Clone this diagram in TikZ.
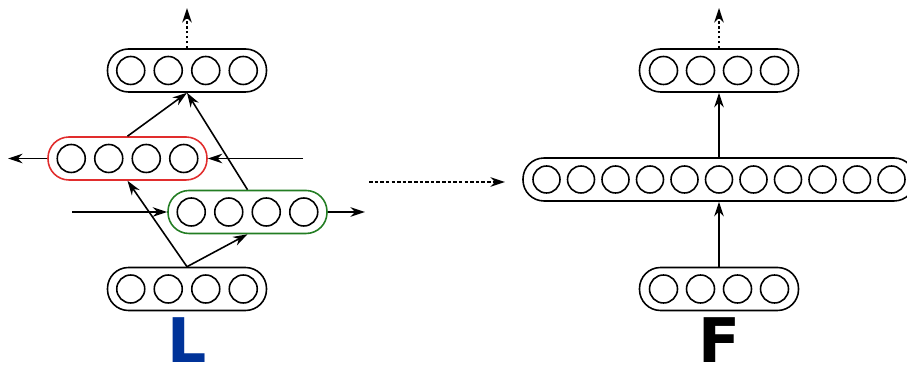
\documentclass[tikz,border=0pt]{standalone}
\usepackage{fontspec}
\setsansfont{DejaVu Sans}
\usepackage{tikz}
\usetikzlibrary{arrows.meta,positioning}
\usepackage{xcolor}
\definecolor{lblue}{RGB}{0,51,153}
\definecolor{boxred}{RGB}{225,45,45}
\definecolor{boxgreen}{RGB}{35,125,35}

\begin{document}
\begin{tikzpicture}[line width=0.9pt, >={Stealth[length=2.9mm,width=1.9mm]},
  layer/.style={draw, rounded corners=0.42cm, minimum width=3.18cm, minimum height=0.86cm, inner sep=0pt},
  dotarrow/.style={->, dash pattern=on 1.2pt off 1.6pt},
  letter/.style={anchor=base, inner sep=0pt, font=\fontsize{35}{40}\selectfont\sffamily\bfseries}]
\useasboundingbox (0,0) rectangle (18.14,7.34);

%----- L -----
\node[layer] (topL) at (3.74,5.93) {};
\node[layer, draw=boxred] (red) at (2.55,4.17) {};
\node[layer, draw=boxgreen] (green) at (4.95,3.10) {};
\node[layer] (botL) at (3.74,1.56) {};
\foreach \n in {topL,red,green,botL}
  \foreach \x in {-1.125,-0.375,0.375,1.125}
    \draw ([xshift=\x cm]\n.center) circle (0.28);
% estremi liberi
\coordinate (outL) at (3.74,7.18);
\coordinate (redout) at (0.16,4.17);
\coordinate (redin) at (6.06,4.17);
\coordinate (greenin) at (1.44,3.10);
\coordinate (greenout) at (7.30,3.10);
\draw[->] (botL.north) -- (red.south);
\draw[->] (botL.north) -- (green.south);
\draw[->] (red.north) -- (topL.south);
\draw[->] (green.north) -- (topL.south);
\draw[->] (red.west) -- (redout);
\draw[->] (redin) -- (red.east);
\draw[->] (greenin) -- (green.west);
\draw[->] (green.east) -- (greenout);
\draw[dotarrow] (topL.north) -- (outL);
\node[letter, text=lblue] (labL) at (3.74,0.08) {L};

%----- freccia centrale -----
\coordinate (midA) at (7.38,3.70);
\coordinate (midB) at (10.10,3.70);
\draw[->, dash pattern=on 2pt off 1.2pt] (midA) -- (midB);

%----- F -----
\node[layer] (topF) at (14.38,5.93) {};
\node[layer, minimum width=7.84cm] (wide) at (14.38,3.75) {};
\node[layer] (botF) at (14.38,1.56) {};
\foreach \n in {topF,botF}
  \foreach \x in {-1.11,-0.37,0.37,1.11}
    \draw ([xshift=\x cm]\n.center) circle (0.28);
\foreach \k in {-5,...,5}
  \draw ([xshift=\k*0.69cm]wide.center) circle (0.27); % 11 neuroni
\coordinate (outF) at (14.38,7.18);
\draw[->] (botF.north) -- (wide.south);
\draw[->] (wide.north) -- (topF.south);
\draw[dotarrow] (topF.north) -- (outF);
\node[letter] (labF) at (14.38,0.08) {F};
\end{tikzpicture}
\end{document}
